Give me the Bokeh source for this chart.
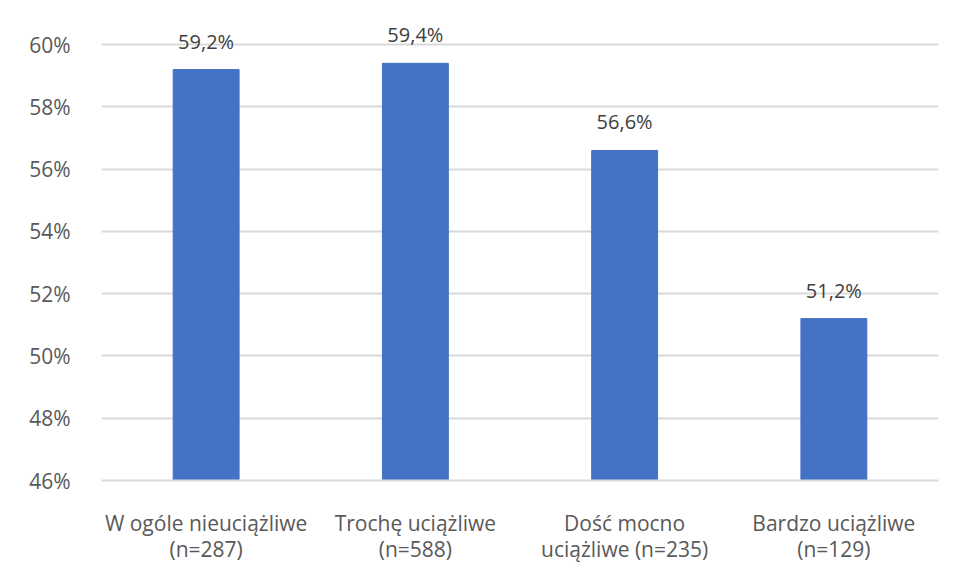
from bokeh.plotting import figure
from bokeh.models import ColumnDataSource, PrintfTickFormatter, FixedTicker, LabelSet
from bokeh.core.properties import value
from bokeh.embed import file_html
from bokeh.resources import INLINE

categories = ["W ogóle nieuciążliwe\n(n=287)", "Trochę uciążliwe\n(n=588)",
              "Dość mocno\nuciążliwe (n=235)", "Bardzo uciążliwe\n(n=129)"]
values = [59.2, 59.4, 56.6, 51.2]
y_ticks = [46, 48, 50, 52, 54, 56, 58, 60]

labels = [f"{v:.1f}%".replace(".", ",") for v in values]
src = ColumnDataSource(dict(cat=categories, val=values, lab=labels))

FONT = "Open Sans"
TXT = "#595959"
GRID = "#D9D9D9"

p = figure(x_range=categories, y_range=(46, 61), width=953, height=582,
           output_backend="svg", toolbar_location=None,
           min_border_left=101, min_border_right=15, min_border_top=13, min_border_bottom=102)
p.outline_line_color = None

p.vbar(x="cat", top="val", bottom=46, width=0.315, source=src, color="#4472C4")

p.add_layout(LabelSet(x="cat", y="val", text="lab", source=src, text_align="center",
                      text_baseline="bottom", y_offset=15, text_font=value(FONT),
                      text_font_size="20px", text_color="#404040"))

p.yaxis.ticker = FixedTicker(ticks=y_ticks)
p.yaxis.formatter = PrintfTickFormatter(format="%d%%")
p.yaxis.axis_line_color = None
p.yaxis.major_tick_line_color = None
p.yaxis.minor_tick_line_color = None
p.yaxis.major_label_text_font = FONT
p.yaxis.major_label_text_font_size = "21px"
p.yaxis.major_label_text_color = TXT
p.yaxis.major_label_standoff = 25

p.xaxis.axis_line_color = GRID
p.xaxis.axis_line_width = 2
p.xaxis.major_tick_line_color = None
p.xaxis.minor_tick_line_color = None
p.xaxis.major_label_text_font = FONT
p.xaxis.major_label_text_font_size = "21px"
p.xaxis.major_label_text_color = TXT
p.xaxis.major_label_text_line_height = 0.95
p.xaxis.major_label_standoff = 22

p.xgrid.grid_line_color = None
p.ygrid.grid_line_color = GRID
p.ygrid.grid_line_width = 2

open("out.html", "w").write(file_html(p, INLINE))
